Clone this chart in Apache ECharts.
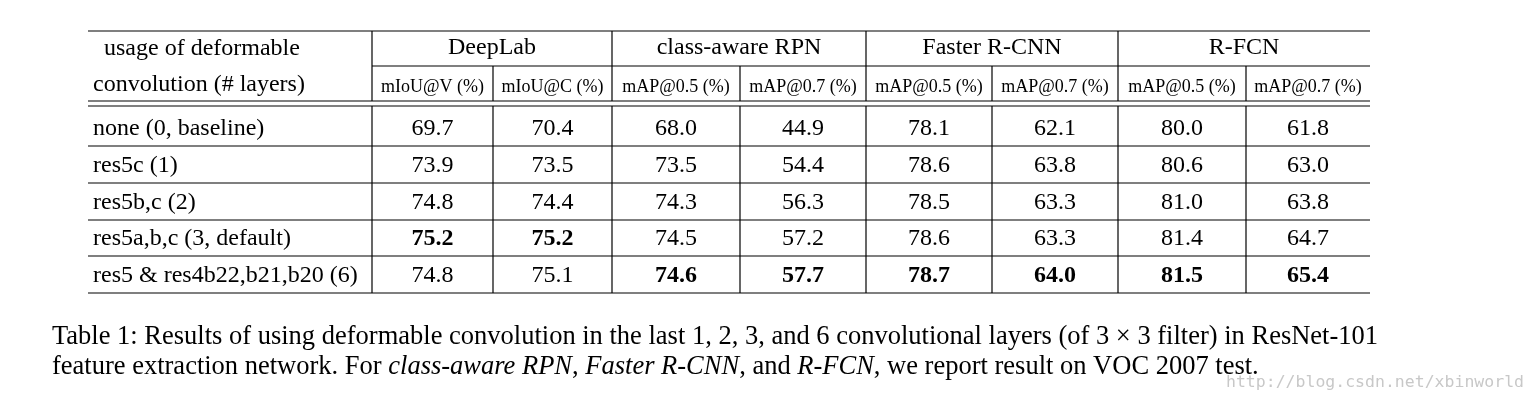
<!DOCTYPE html>
<html>
<head>
<meta charset="utf-8">
<script src="https://cdn.jsdelivr.net/npm/echarts@6/dist/echarts.min.js"></script>
<style>html,body{margin:0;background:#fff}#main{width:1536px;height:405px}</style>
</head>
<body>
<div id="main"></div>
<script>
var groups = ['DeepLab', 'class-aware RPN', 'Faster R-CNN', 'R-FCN']
var metrics = ['mIoU@V (%)', 'mIoU@C (%)', 'mAP@0.5 (%)', 'mAP@0.7 (%)', 'mAP@0.5 (%)', 'mAP@0.7 (%)', 'mAP@0.5 (%)', 'mAP@0.7 (%)']
var rowLabels = ['none (0, baseline)', 'res5c (1)', 'res5b,c (2)', 'res5a,b,c (3, default)', 'res5 & res4b22,b21,b20 (6)']
var values = [
  [69.7, 70.4, 68.0, 44.9, 78.1, 62.1, 80.0, 61.8],
  [73.9, 73.5, 73.5, 54.4, 78.6, 63.8, 80.6, 63.0],
  [74.8, 74.4, 74.3, 56.3, 78.5, 63.3, 81.0, 63.8],
  [75.2, 75.2, 74.5, 57.2, 78.6, 63.3, 81.4, 64.7],
  [74.8, 75.1, 74.6, 57.7, 78.7, 64.0, 81.5, 65.4]
]
var bestRow = [3, 3, 4, 4, 4, 4, 4, 4]

var font = '"Liberation Serif", "DejaVu Serif", serif'
var colX = [372, 493, 612, 740, 866, 992, 1118, 1246, 1370]
var left = 88
var rowY = [146, 183, 220, 256, 293]
var els = []
function line (x1, y1, x2, y2) {
  els.push({ type: 'line', shape: { x1: x1, y1: y1, x2: x2, y2: y2 }, style: { stroke: '#000', lineWidth: 1.2 } })
}
function text (t, x, y, size, align, weight) {
  els.push({ type: 'text', x: x, y: y, style: { text: t, font: weight === 'bold' ? 'bold ' + size + 'px ' + font : size + 'px ' + font, fill: '#000', align: align || 'center', verticalAlign: 'middle' } })
}
line(left, 31, 1370, 31)
line(colX[0], 66, 1370, 66)
line(left, 101, 1370, 101)
line(left, 106, 1370, 106)
rowY.forEach(function (y) { line(left, y, 1370, y) })
colX.slice(0, 8).forEach(function (x, i) {
  var top = (i % 2 === 1) ? 66 : 31
  line(x, top, x, 101)
  line(x, 106, x, 293)
})
text('usage of deformable', 104, 49, 24, 'left')
text('convolution (# layers)', 93, 85, 24, 'left')
groups.forEach(function (g, i) { text(g, (colX[i * 2] + colX[i * 2 + 2]) / 2, 48, 24) })
metrics.forEach(function (m, i) { text(m, (colX[i] + colX[i + 1]) / 2, 87, 18) })
rowLabels.forEach(function (r, j) {
  var cy = rowY[j] - 17
  text(r, 93, cy, 24, 'left')
  values[j].forEach(function (v, i) {
    text(v.toFixed(1), (colX[i] + colX[i + 1]) / 2, cy, 24, 'center', bestRow[i] === j ? 'bold' : 'normal')
  })
})
els.push({ type: 'text', x: 52, y: 337, style: { rich: { n: { font: '26.5px ' + font, fill: '#000' } }, text: '{n|Table 1: Results of using deformable convolution in the last 1, 2, 3, and 6 convolutional layers (of 3 × 3 filter) in ResNet-101}', verticalAlign: 'middle' } })
els.push({ type: 'text', x: 52, y: 367, style: { rich: { n: { font: '26.5px ' + font, fill: '#000' }, i: { font: 'italic 26.5px ' + font, fill: '#000' } }, text: '{n|feature extraction network. For }{i|class-aware RPN}{n|, }{i|Faster R-CNN}{n|, and }{i|R-FCN}{n|, we report result on VOC 2007 test.}', verticalAlign: 'middle' } })
els.push({ type: 'text', x: 1524, y: 383, style: { text: 'http://blog.csdn.net/xbinworld', font: '16.5px "DejaVu Sans Mono", monospace', fill: '#c8c8c8', align: 'right', verticalAlign: 'middle' } })

var chart = echarts.init(document.getElementById('main'))
chart.setOption({ animation: false, graphic: { elements: els } })
</script>
</body>
</html>
